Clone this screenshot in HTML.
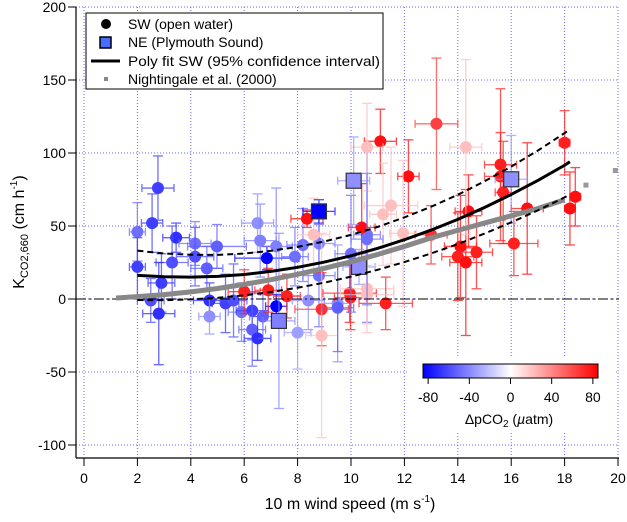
<!DOCTYPE html>
<html><head><meta charset="utf-8"><style>
body{margin:0;background:#fff}
svg text{font-family:"Liberation Sans",sans-serif;fill:#000}
</style></head><body>
<svg id="chart" width="627" height="517" xmlns="http://www.w3.org/2000/svg">
<g id="grid"></g>
<g id="marks"></g>
<g id="curves"></g>
<g id="axes"></g>
</svg>
<script>
const swX=[2.77,2.55,2.0,3.45,4.16,4.98,4.16,2.0,3.3,4.6,2.9,2.5,2.8,4.7,4.7,5.3,5.6,5.9,6.3,6.3,6.5,6.7,6.5,6.6,6.85,7.2,7.9,8.2,8.8,8.8,7.2,8.4,8.0,9.5,10.6,8.35,6.0,6.9,7.6,8.9,9.95,10.4,8.9,8.6,10.6,13.2,11.1,10.6,12.15,18.0,15.6,15.6,15.7,18.4,18.2,16.6,14.4,11.5,11.2,13.0,14.1,14.7,14.0,14.3,16.1,11.95,9.98,11.3,10.6,10.6,10.0,9.5,14.3];
const swY=[76,52,46,42,38,36,29,22,25,21,11,-1,-10,-1,-12,-3,-1,-9,-8,-21,-27,-12,52,40,28,36,29,37,38,16,-5,-1,-23,-3,44,55,5,6,2,-7,4,49,-25,44,7,120,108,104,84,107,92,84,73,70,62,62,60,64,58,44,36,32,29,25,38,45,1,-3,3,41,31,-6,104];
const swDp=[-60,-60,-45,-65,-45,-50,-55,-60,-55,-50,-60,-55,-65,-65,-35,-60,-55,-45,-60,-50,-65,-50,-35,-40,-80,-40,-45,-45,-40,-45,-80,-35,-30,-35,-45,75,70,70,70,65,70,75,20,20,20,60,75,20,75,70,70,70,70,75,75,75,75,20,20,65,75,70,70,75,70,20,70,70,20,-45,-45,-50,20];
const swXe=[0.6,0.4,0.3,0.5,0.6,1.1,0.7,0.3,0.6,0.6,0.5,0.5,0.6,0.6,0.4,0.5,0.5,0.5,0.6,0.5,0.5,0.5,0.6,0.6,1.2,0.6,0.5,0.6,0.6,0.6,0.4,0.6,0.5,0.5,0.5,0.6,0.6,0.5,0.5,1.0,1.0,0.5,0.6,0.6,1.0,0.8,0.6,0.6,0.4,0.2,0.6,0.6,0.3,0.2,0.2,0.6,0.5,1.0,0.5,0.6,0.6,0.6,0.6,0.6,0.9,0.5,0.6,1.0,1.0,0.6,0.6,0.6,0.6];
const swYe=[22,20,20,10,15,15,20,20,25,15,20,15,35,12,12,20,25,20,20,25,15,15,20,25,8,40,20,25,20,35,8,20,25,40,60,6,15,15,15,25,20,30,70,25,30,45,22,30,25,22,52,30,35,20,25,45,25,40,35,20,35,25,30,50,22,50,22,18,20,45,40,30,60];
const neX=[10.1,8.8,10.3,7.3,16.0];
const neY=[81,60,22,-15,82];
const neDp=[-35,-80,-35,-40,-35];
const neYe=[30,8,12,60,30];
const fitX=[2,3,4,5,6,7,8,9,10,11,12,13,14,15,16,17,18,18.2];
const fitY=[16.2,15.2,15.0,15.5,16.8,18.9,21.7,25.3,29.6,34.7,40.6,47.2,54.5,62.7,71.6,81.2,91.6,94];
const fitUp=[33.1,31.2,30.3,30.2,31.1,33,35.7,39.4,43.9,49.4,55.9,63.2,71.4,80.6,90.7,101.7,113.6,116.3];
const fitLo=[-0.7,-0.8,-0.3,0.8,2.5,4.8,7.7,11.2,15.3,20,25.3,31.2,37.6,44.8,52.5,60.7,69.6,71.7];
const ngX=[1.2,2,3,4,5,6,7,8,9,10,11,12,13,14,15,16,17,18];
const ngY=[0.7,1.6,3.0,4.9,7.2,10,13.2,16.9,21,25.5,30.5,36,41.9,47,52,57,62,68];
const ngTailX=[18.8,19.9];
const ngTailY=[78,88];
const xTicks=[0,2,4,6,8,10,12,14,16,18,20];
const yTicks=[-100,-50,0,50,100,150,200];
const cbTicks=[-80,-40,0,40,80];

const NS="http://www.w3.org/2000/svg";
const X=v=>84+v*26.7, Y=v=>299-v*1.46;
function mk(p,t,a){const e=document.createElementNS(NS,t);for(const k in a)e.setAttribute(k,a[k]);p.appendChild(e);return e;}
function col(d){const t=Math.max(-1,Math.min(1,d/80));let r,g,b;
 if(t<0){const s=-t;r=255*(1-s);g=255*(1-s);b=255;}else{r=255;g=255*(1-t);b=255*(1-t);}
 return `rgb(${r|0},${g|0},${b|0})`;}
const grid=document.getElementById('grid'),marks=document.getElementById('marks'),curves=document.getElementById('curves'),axes=document.getElementById('axes');
xTicks.forEach(v=>{const l=mk(grid,'line',{x1:X(v),x2:X(v),y1:7,y2:457,stroke:'#6b6bff','stroke-width':1,'stroke-dasharray':'1,2'});
});
yTicks.forEach(v=>{const l=mk(grid,'line',{x1:76,x2:619,y1:Y(v),y2:Y(v),stroke:'#6b6bff','stroke-width':1,'stroke-dasharray':'1,2'});
});
function errbar(x,y,xe,ye,c){const g=mk(marks,'g',{stroke:c,'stroke-width':1.3});
 mk(g,'line',{x1:X(x-xe),x2:X(x+xe),y1:Y(y),y2:Y(y)});mk(g,'line',{x1:X(x),x2:X(x),y1:Y(y-ye),y2:Y(y+ye)});
 mk(g,'line',{x1:X(x-xe),x2:X(x-xe),y1:Y(y)-4,y2:Y(y)+4});mk(g,'line',{x1:X(x+xe),x2:X(x+xe),y1:Y(y)-4,y2:Y(y)+4});
 mk(g,'line',{x1:X(x)-5,x2:X(x)+5,y1:Y(y-ye),y2:Y(y-ye)});mk(g,'line',{x1:X(x)-5,x2:X(x)+5,y1:Y(y+ye),y2:Y(y+ye)});return g;}
swX.forEach((x,i)=>{const c=col(swDp[i]);const g=errbar(x,swY[i],swXe[i],swYe[i],c);g.setAttribute('opacity',0.75);
 const p=mk(marks,'circle',{cx:X(x),cy:Y(swY[i]),r:6,fill:c});
 });
neX.forEach((x,i)=>{const c=col(neDp[i]);const g=errbar(x,neY[i],0.6,neYe[i],c);g.setAttribute('opacity',0.7);
 const p=mk(marks,'rect',{x:X(x)-7.5,y:Y(neY[i])-7.5,width:15,height:15,fill:c,stroke:'#333','stroke-width':1.2});
 });
const zl=mk(curves,'line',{x1:76,x2:619,y1:Y(0),y2:Y(0),stroke:'#000','stroke-width':1,'stroke-dasharray':'10,3,2,3'});

const pts=(xs,ys)=>xs.map((x,i)=>X(x)+','+Y(ys[i])).join(' ');
const ng=mk(curves,'polyline',{points:pts(ngX,ngY),fill:'none',stroke:'#888','stroke-width':5});

ngTailX.forEach((x,i)=>{const r=mk(curves,'rect',{x:X(x)-2.5,y:Y(ngTailY[i])-2.5,width:5,height:5,fill:'#999'});
 });
const fu=mk(curves,'polyline',{points:pts(fitX,fitUp),fill:'none',stroke:'#000','stroke-width':2,'stroke-dasharray':'6,4'});

const fl=mk(curves,'polyline',{points:pts(fitX,fitLo),fill:'none',stroke:'#000','stroke-width':2,'stroke-dasharray':'6,4'});

const ff=mk(curves,'polyline',{points:pts(fitX,fitY),fill:'none',stroke:'#000','stroke-width':3});

mk(axes,'line',{x1:76,x2:76,y1:7,y2:458,stroke:'#000','stroke-width':1.2});
mk(axes,'line',{x1:76,x2:619,y1:458,y2:458,stroke:'#000','stroke-width':1.2});
xTicks.forEach(v=>{mk(axes,'line',{x1:X(v),x2:X(v),y1:458,y2:466,stroke:'#000'});
 const t=mk(axes,'text',{x:X(v),y:483,'text-anchor':'middle','font-size':14});t.textContent=v;
 });
yTicks.forEach(v=>{mk(axes,'line',{x1:68,x2:76,y1:Y(v),y2:Y(v),stroke:'#000'});
 const t=mk(axes,'text',{x:66,y:Y(v)+5,'text-anchor':'end','font-size':14});t.textContent=v;
 });
const cb=mk(axes,'g',{});

const defs=mk(cb,'defs',{});const lg=mk(defs,'linearGradient',{id:'cg',x1:0,x2:1,y1:0,y2:0});
mk(lg,'stop',{offset:'0','stop-color':'#0000ff'});mk(lg,'stop',{offset:'0.5','stop-color':'#ffffff'});mk(lg,'stop',{offset:'1','stop-color':'#ff0000'});
mk(cb,'rect',{x:408,y:356,width:208,height:76,fill:'#fff'});
mk(cb,'rect',{x:423,y:364,width:175,height:14,fill:'url(#cg)',stroke:'#000','stroke-width':1});
const CX=v=>423+(v+85)/170*175;
cbTicks.forEach(v=>{mk(cb,'line',{x1:CX(v),x2:CX(v),y1:378,y2:384,stroke:'#000'});
 const t=mk(cb,'text',{x:CX(v),y:402,'text-anchor':'middle','font-size':14});t.textContent=v;
 });
</script>
<svg width="627" height="517" style="position:absolute;left:0;top:0" xmlns="http://www.w3.org/2000/svg">
<text x="509" y="424" text-anchor="middle" font-size="14">ΔpCO<tspan font-size="10" dy="3">2</tspan><tspan dy="-3"> (</tspan><tspan font-style="italic">µ</tspan>atm)</text>
<text x="350" y="509" text-anchor="middle" font-size="16">10 m wind speed (m s<tspan font-size="10" dy="-7">-1</tspan><tspan dy="7">)</tspan></text>
<text transform="translate(24,232) rotate(-90)" text-anchor="middle" font-size="16">K<tspan font-size="11" dy="4">CO2,660</tspan><tspan dy="-4"> (cm h</tspan><tspan font-size="10" dy="-7">-1</tspan><tspan dy="7">)</tspan></text>
<g>
<rect x="86" y="13" width="297" height="76" fill="#fff" stroke="#000" stroke-width="1"/>
<circle cx="106" cy="24" r="5" fill="#000"/>
<text x="128" y="29" font-size="14">SW (open water)</text>
<rect x="100" y="37" width="11" height="11" fill="#4a6bff" stroke="#000" stroke-width="1.5"/>
<text x="128" y="47" font-size="14">NE (Plymouth Sound)</text>
<line x1="91" y1="61" x2="120" y2="61" stroke="#000" stroke-width="3"/>
<text x="128" y="66" font-size="14" textLength="252" lengthAdjust="spacingAndGlyphs">Poly fit SW (95% confidence interval)</text>
<rect x="104" y="77" width="4" height="4" fill="#888"/>
<text x="128" y="84" font-size="14">Nightingale et al. (2000)</text>
</g>
</svg>
</body></html>
